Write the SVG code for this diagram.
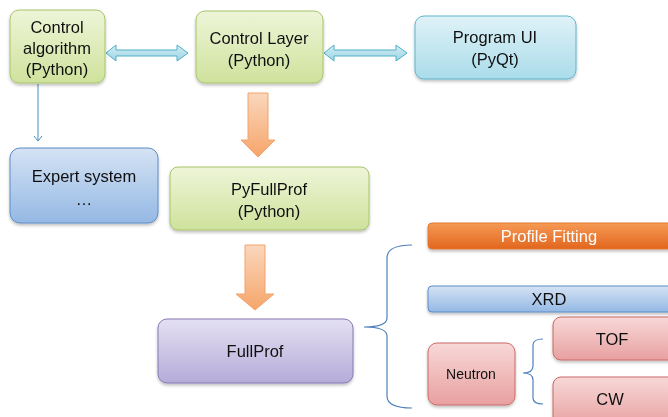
<svg xmlns="http://www.w3.org/2000/svg" width="668" height="417" viewBox="0 0 668 417">
<defs>
<linearGradient id="gGreen" x1="0" y1="0" x2="0" y2="1"><stop offset="0" stop-color="#eef5d8"/><stop offset="1" stop-color="#cfe29c"/></linearGradient>
<linearGradient id="gCyan" x1="0" y1="0" x2="0" y2="1"><stop offset="0" stop-color="#dff2f7"/><stop offset="1" stop-color="#aadcea"/></linearGradient>
<linearGradient id="gBlue" x1="0" y1="0" x2="0" y2="1"><stop offset="0" stop-color="#d5e3f4"/><stop offset="1" stop-color="#94b8e4"/></linearGradient>
<linearGradient id="gPurple" x1="0" y1="0" x2="0" y2="1"><stop offset="0" stop-color="#e4e0f2"/><stop offset="1" stop-color="#b5acd9"/></linearGradient>
<linearGradient id="gPink" x1="0" y1="0" x2="0" y2="1"><stop offset="0" stop-color="#f8d8d8"/><stop offset="1" stop-color="#e8a0a0"/></linearGradient>
<linearGradient id="gOrange" x1="0" y1="0" x2="0" y2="1"><stop offset="0" stop-color="#f59a55"/><stop offset="1" stop-color="#e2661e"/></linearGradient>
<linearGradient id="gArrowO" x1="0" y1="0" x2="0" y2="1"><stop offset="0" stop-color="#fad7bd"/><stop offset="1" stop-color="#f6a56a"/></linearGradient>
<linearGradient id="gDbl" x1="0" y1="0" x2="0" y2="1"><stop offset="0" stop-color="#d2eef5"/><stop offset="1" stop-color="#9ed5e4"/></linearGradient>
<filter id="sh" x="-10%" y="-10%" width="130%" height="140%"><feDropShadow dx="0" dy="2" stdDeviation="1.5" flood-color="#000" flood-opacity="0.25"/></filter>
<marker id="thin" markerWidth="10" markerHeight="10" refX="8" refY="5" orient="auto" markerUnits="userSpaceOnUse" viewBox="0 0 10 10"><path d="M3,1 L8,5 L3,9" fill="none" stroke="#4a8fc0" stroke-width="1"/></marker>
</defs>
<style>
text{font-family:"Liberation Sans",Arial,sans-serif;fill:#111;text-anchor:middle}
.t16{font-size:16.5px}
.t14{font-size:14px}
.green{fill:url(#gGreen);stroke:#a8c46a;stroke-width:1}
.cyan{fill:url(#gCyan);stroke:#5fb5cc;stroke-width:1}
.blue{fill:url(#gBlue);stroke:#5e8cc6;stroke-width:1}
.purple{fill:url(#gPurple);stroke:#8a78b4;stroke-width:1}
.pink{fill:url(#gPink);stroke:#c96a68;stroke-width:1}
.dbl{fill:url(#gDbl);stroke:#4fafc8;stroke-width:1}
.oarr{fill:url(#gArrowO);stroke:#f2a36a;stroke-width:1}
.brace{fill:none;stroke:#4f81bd;stroke-width:1.2}
</style>
<rect width="668" height="417" fill="#fff"/>

<g id="connectors">
<path class="dbl" d="M106,53 L116,45 L116,50 L177,50 L177,45 L188,53 L177,61 L177,56 L116,56 L116,61 Z"/>
<path class="dbl" d="M324,53 L334,45 L334,50 L396,50 L396,45 L407,53 L396,61 L396,56 L334,56 L334,61 Z"/>
<line x1="38" y1="84" x2="38" y2="141" stroke="#4a8fc0" stroke-width="1" marker-end="url(#thin)"/>
<path class="oarr" d="M248,93 L268,93 L268,140 L275,140 L258,157 L241,140 L248,140 Z"/>
<path class="oarr" d="M245,245 L265,245 L265,294 L274,294 L255,310 L236,294 L245,294 Z"/>
<path class="brace" d="M412,245 Q387,245 387,258 L387,318 Q387,327 364,327 Q387,327 387,336 L387,396 Q387,408 412,408"/>
<path class="brace" d="M543,339 Q533,339 533,345 L533,366 Q533,373 523,373 Q533,373 533,380 L533,398 Q533,404 543,404"/>
</g>

<g id="control-algorithm" filter="url(#sh)">
<rect class="green" x="10" y="10" width="95" height="73" rx="9"/>
<text class="t16" x="57" y="33">Control</text>
<text class="t16" x="57" y="54">algorithm</text>
<text class="t16" x="57" y="75">(Python)</text>
</g>

<g id="control-layer" filter="url(#sh)">
<rect class="green" x="196" y="11" width="127" height="72" rx="9"/>
<text class="t16" x="259" y="44">Control Layer</text>
<text class="t16" x="259" y="66">(Python)</text>
</g>

<g id="program-ui" filter="url(#sh)">
<rect class="cyan" x="415" y="16" width="161" height="63" rx="9"/>
<text class="t16" x="495" y="43">Program UI</text>
<text class="t16" x="495" y="65">(PyQt)</text>
</g>

<g id="expert-system" filter="url(#sh)">
<rect class="blue" x="10" y="148" width="148" height="75" rx="10"/>
<text class="t16" x="84" y="182">Expert system</text>
<text class="t16" x="84" y="205">…</text>
</g>

<g id="pyfullprof" filter="url(#sh)">
<rect class="green" x="170" y="167" width="199" height="63" rx="8"/>
<text class="t16" x="269" y="195">PyFullProf</text>
<text class="t16" x="269" y="217">(Python)</text>
</g>

<g id="fullprof" filter="url(#sh)">
<rect class="purple" x="158" y="319" width="195" height="64" rx="9"/>
<text class="t16" x="255" y="357">FullProf</text>
</g>

<g id="profile-fitting" filter="url(#sh)">
<rect x="428" y="223" width="250" height="26" rx="4" fill="url(#gOrange)" stroke="#e07a30" stroke-width="1"/>
<text x="549" y="242" style="font-size:16.5px;fill:#fff">Profile Fitting</text>
</g>

<g id="xrd" filter="url(#sh)">
<rect class="blue" x="428" y="286" width="250" height="26" rx="4"/>
<text class="t16" x="549" y="305">XRD</text>
</g>

<g id="neutron" filter="url(#sh)">
<rect class="pink" x="428" y="343" width="87" height="62" rx="9"/>
<text class="t14" x="471" y="379">Neutron</text>
</g>

<g id="tof" filter="url(#sh)">
<rect class="pink" x="553" y="317" width="125" height="43" rx="8"/>
<text class="t16" x="612" y="345">TOF</text>
</g>

<g id="cw" filter="url(#sh)">
<rect class="pink" x="553" y="377" width="125" height="50" rx="8"/>
<text class="t16" x="610" y="405">CW</text>
</g>
</svg>
